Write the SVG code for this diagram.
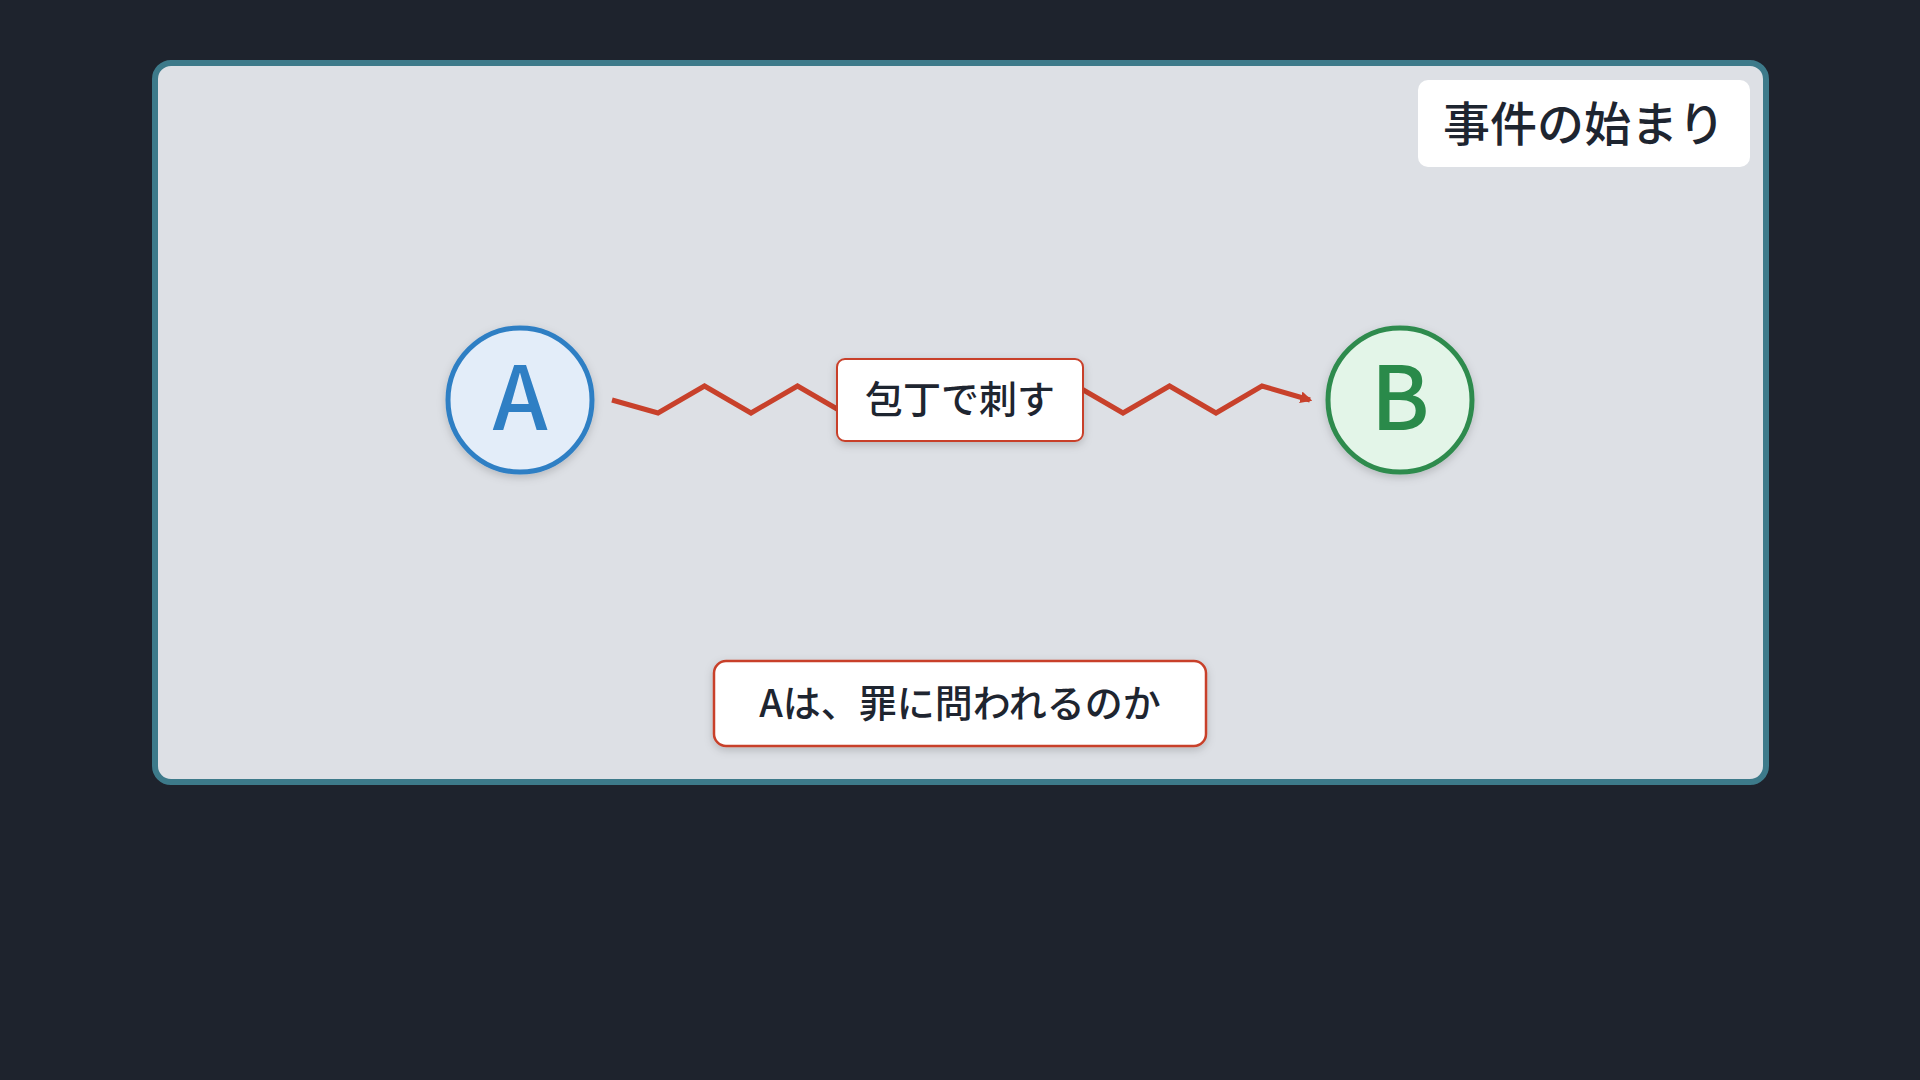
<svg xmlns="http://www.w3.org/2000/svg" width="1920" height="1080" viewBox="0 0 1920 1080">
<defs>
<style>
.txt{font-family:"Noto Sans CJK JP","Noto Sans",sans-serif;font-weight:500;fill:#1e2530;text-anchor:middle}
.big{font-family:"Noto Sans CJK JP","Noto Sans",sans-serif;font-weight:500;font-size:88px;text-anchor:middle}
</style>
<filter id="sh" x="-20%" y="-20%" width="140%" height="140%">
<feDropShadow dx="0" dy="3" stdDeviation="4" flood-color="#000" flood-opacity="0.18"/>
</filter>
<marker id="arr" viewBox="0 0 10 10" refX="8" refY="5" markerWidth="2.4" markerHeight="2.4" orient="auto" markerUnits="strokeWidth">
<path d="M0,0 L10,5 L0,10 z" fill="#c8412b"/>
</marker>
</defs>
<rect x="0" y="0" width="1920" height="1080" fill="#1e232d"/>
<g id="frame">
<rect x="155" y="63" width="1611" height="719" rx="16" fill="#dde0e5" stroke="#3d7a8a" stroke-width="6"/>
</g>
<g id="title">
<rect x="1418" y="80" width="332" height="87" rx="10" fill="#ffffff"/>
<text class="txt" x="1584" y="141" font-size="47">事件の始まり</text>
</g>
<g id="connectors">
<polyline fill="none" stroke="#c8412b" stroke-width="5" stroke-linejoin="miter" marker-end="url(#arr)" points="612,400 658,413 704.5,386 751,413 797.5,386 844,413 890.5,386 937,413 983.5,386 1030,413 1076.5,386 1123,413 1169.5,386 1216,413 1262,386 1310,400"/>
</g>
<g id="nodeA">
<circle cx="520" cy="400" r="72" fill="#e3edf9" stroke="#2f7fc4" stroke-width="5" filter="url(#sh)"/>
<text class="big" x="520" y="430" fill="#2f7fc4">A</text>
</g>
<g id="nodeB">
<circle cx="1400" cy="400" r="72" fill="#e3f5e8" stroke="#2e8b4e" stroke-width="5" filter="url(#sh)"/>
<text class="big" x="1400" y="430" fill="#2a8a4a">B</text>
</g>
<g id="edgeLabel">
<rect x="837" y="359" width="246" height="82" rx="8" fill="#ffffff" stroke="#c8412b" stroke-width="2" filter="url(#sh)"/>
<text class="txt" x="960" y="413" font-size="38">包丁で刺す</text>
</g>
<g id="question">
<rect x="714" y="661" width="492" height="85" rx="12" fill="#ffffff" stroke="#c8412b" stroke-width="2.5" filter="url(#sh)"/>
<text class="txt" x="960" y="717" font-size="38">Aは、罪に問われるのか</text>
</g>
</svg>
